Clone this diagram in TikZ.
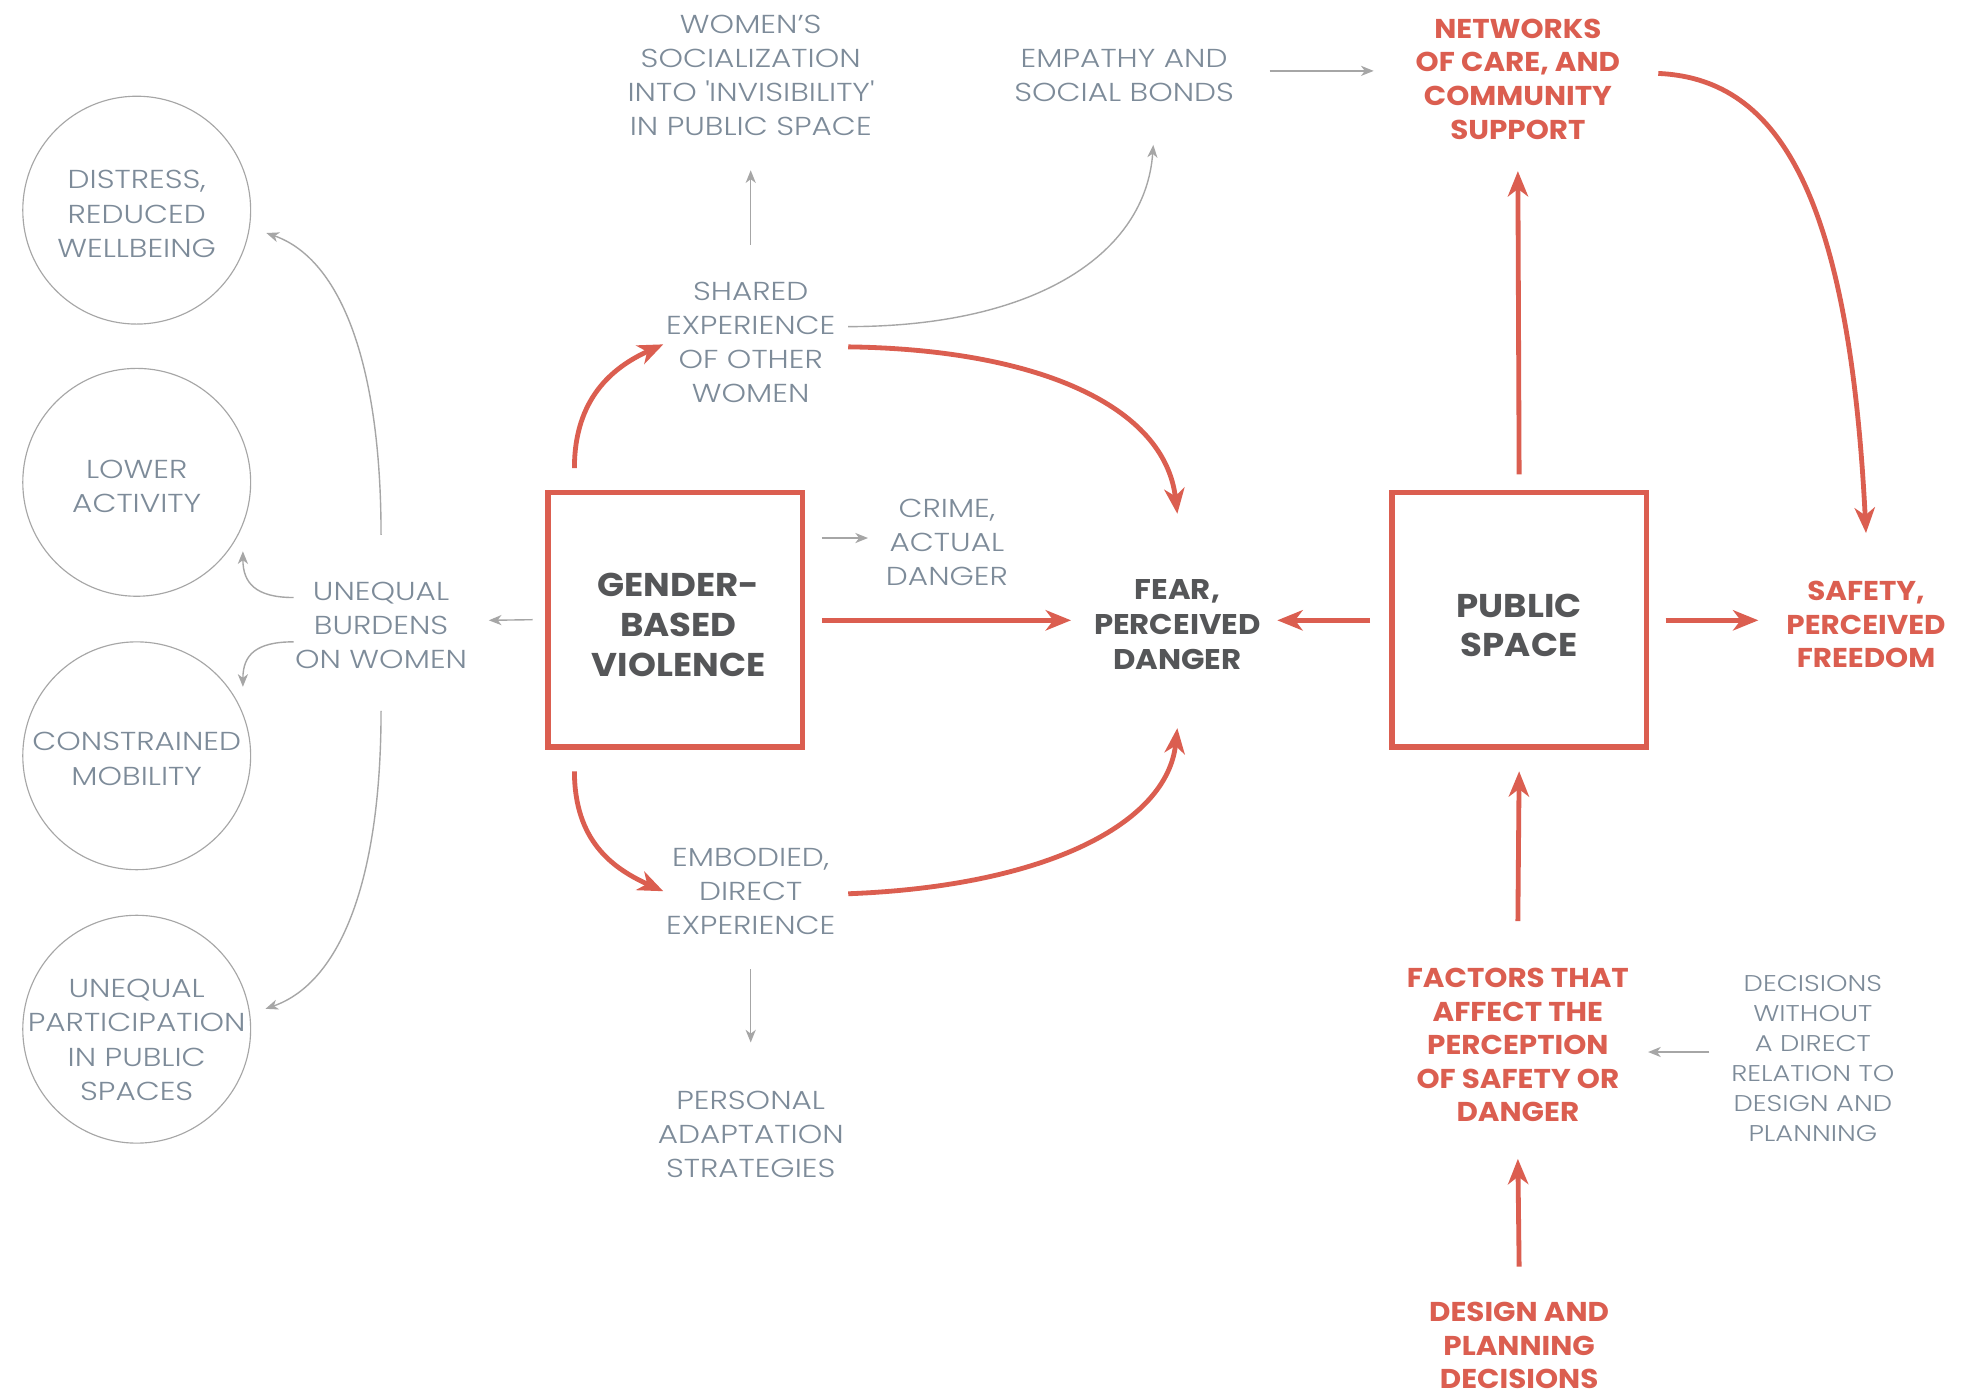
\documentclass[tikz,border=0pt]{standalone}
\usepackage{fontspec}
\setmainfont{Poppins}
\newfontfamily\lightf{Poppins Light}[FakeStretch=1.2]
\newfontfamily\boldf{Poppins}[FakeStretch=1.08]
\usetikzlibrary{arrows.meta,calc}
\definecolor{red1}{RGB}{219,94,80}
\definecolor{gtext}{RGB}{125,139,153}
\definecolor{gline}{RGB}{166,166,166}
\definecolor{dark}{RGB}{85,86,88}
\tikzset{
  gt/.style={font=\lightf\fontsize{20.5}{27}\selectfont, text=gtext, align=center, inner sep=0pt},
  st/.style={font=\lightf\fontsize{18}{23.7}\selectfont, text=gtext, align=center, inner sep=0pt},
  rt/.style={font=\boldf\bfseries\fontsize{21.5}{26.5}\selectfont, text=red1, align=center, inner sep=0pt},
  dt/.style={font=\boldf\bfseries\fontsize{22.5}{27.5}\selectfont, text=dark, align=center, inner sep=0pt},
  bigt/.style={font=\boldf\bfseries\fontsize{26}{31.5}\selectfont, text=dark, align=center, inner sep=0pt},
  bubble/.style={circle, draw=gline, line width=0.9pt, minimum size=180pt, inner sep=0pt},
  frame/.style={rectangle, draw=red1, line width=4.5pt, minimum width=201pt, minimum height=201pt, inner sep=0pt},
  garrow/.style={draw=gline, line width=1.1pt, -{Stealth[length=10pt,width=8pt,inset=3pt]}},
  rarrow/.style={draw=red1, line width=3.8pt, -{Stealth[length=20pt,width=16pt,inset=6pt]}}
}
\begin{document}
\begin{tikzpicture}[x=1pt,y=1pt]
\fill[white] (0,0) rectangle (1568,-1102);
\useasboundingbox (0,0) rectangle (1568,-1102);

% circles
\node[bubble] (c1) at (108,-166) {};
\node[gt] (t1) at (108,-169) {DISTRESS,\\REDUCED\\WELLBEING};
\node[bubble] (c2) at (108,-381) {};
\node[gt] (t2) at (108,-384.5) {LOWER\\ACTIVITY};
\node[bubble] (c3) at (108,-597) {};
\node[gt] (t3) at (108,-599.5) {CONSTRAINED\\MOBILITY};
\node[bubble] (c4) at (108,-813) {};
\node[gt] (t4) at (108,-821.5) {UNEQUAL\\PARTICIPATION\\IN PUBLIC\\SPACES};

% main nodes
\node[gt] (burdens) at (301,-494) {UNEQUAL\\BURDENS\\ON WOMEN};
\node[frame] (gbv) at (533.5,-489.5) {};
\node[bigt] (gbvtext) at (536,-493.5) {GENDER-\\BASED\\VIOLENCE};
\node[gt] (crime) at (748,-428.5) {CRIME,\\ACTUAL\\DANGER};
\node[dt] (fear) at (930,-493.5) {FEAR,\\PERCEIVED\\DANGER};
\node[frame] (ps) at (1200,-489.5) {};
\node[bigt] (pstext) at (1200,-494) {PUBLIC\\SPACE};
\node[rt] (safety) at (1474,-493.5) {SAFETY,\\PERCEIVED\\FREEDOM};
\node[rt] (networks) at (1199,-62.5) {NETWORKS\\OF CARE, AND\\COMMUNITY\\SUPPORT};
\node[rt] (factors) at (1199,-825.5) {FACTORS THAT\\AFFECT THE\\PERCEPTION\\OF SAFETY OR\\DANGER};
\node[rt] (design) at (1200,-1063) {DESIGN AND\\PLANNING\\DECISIONS};
\node[st] (decisions) at (1432,-836.5) {DECISIONS\\WITHOUT\\A DIRECT\\RELATION TO\\DESIGN AND\\PLANNING};
\node[gt] (shared) at (593,-270.5) {SHARED\\EXPERIENCE\\OF OTHER\\WOMEN};
\node[gt] (womens) at (593,-59.5) {WOMEN’S\\SOCIALIZATION\\INTO \textquotesingle INVISIBILITY\textquotesingle\\IN PUBLIC SPACE};
\node[gt] (empathy) at (888,-59.5) {EMPATHY AND\\SOCIAL BONDS};
\node[gt] (embodied) at (593,-704) {EMBODIED,\\DIRECT\\EXPERIENCE};
\node[gt] (personal) at (593,-896) {PERSONAL\\ADAPTATION\\STRATEGIES};

% gray connectors
\draw[garrow] ([xshift=-10]gbv.west) -- ([shift={(17,4)}]burdens.east);
\draw[garrow] ([yshift=37]burdens.north) .. controls +(0,132) and +(60,-21) .. ($(c1)+(-10:104)$);
\draw[garrow] ([shift={(-1,22)}]burdens.west) .. controls +(-30,0) and +(0,-25) .. ($(c2)+(-33:100)$);
\draw[garrow] ([shift={(-1,-13)}]burdens.west) .. controls +(-30,0) and +(0,25) .. ($(c3)+(33:100)$);
\draw[garrow] ([yshift=-33]burdens.south) .. controls +(0,-132) and +(60,21) .. ($(c4)+(9:103)$);
\draw[garrow] ([yshift=29]shared.north) -- ([yshift=-27]womens.south);
\draw[garrow] ([shift={(10,12.5)}]shared.east) .. controls +(150,0) and +(-6,-85) .. ([shift={(23,-34)}]empathy.south);
\draw[garrow] ([shift={(28,3.5)}]empathy.east) -- ([shift={(-33,6.5)}]networks.west);
\draw[garrow] ([shift={(13,64.5)}]gbv.east) -- ([shift={(-14,3.5)}]crime.west);
\draw[garrow] ([yshift=-27]embodied.south) -- ([yshift=38]personal.north);
\draw[garrow] ([shift={(-17,5.5)}]decisions.west) -- ([shift={(15,-5.5)}]factors.east);

% red connectors
\draw[rarrow] ([shift={(23,17)}]gbv.north west) .. controls +(0,55) and +(-40,-18) .. ([shift={(-2,-1.5)}]shared.west);
\draw[rarrow] ([shift={(10,-3.5)}]shared.east) .. controls +(150,-2) and +(-10,85) .. ([yshift=52]fear.north);
\draw[rarrow] ([shift={(13,-0.5)}]gbv.east) -- ([shift={(-18,3.5)}]fear.west);
\draw[rarrow] ([shift={(-15,-0.5)}]ps.west) -- ([shift={(13,3.5)}]fear.east);
\draw[rarrow] ([shift={(13,-0.5)}]ps.east) -- ([shift={(-22,3.5)}]safety.west);
\draw[rarrow] ([yshift=12]ps.north) -- ([yshift=-25]networks.south);
\draw[rarrow] ([shift={(30,4.5)}]networks.east) .. controls +(89,-4) and +(-14,280) .. ([yshift=38]safety.north);
\draw[rarrow] ([shift={(23,-17)}]gbv.south west) .. controls +(0,-55) and +(-40,18) .. ([shift={(-2,0)}]embodied.west);
\draw[rarrow] ([shift={(10,-2)}]embodied.east) .. controls +(157,6) and +(-8,-75) .. ([yshift=-46]fear.south);
\draw[rarrow] ([yshift=37]factors.north) -- ([yshift=-17]ps.south);
\draw[rarrow] ([yshift=28]design.north) -- ([yshift=-29]factors.south);
\end{tikzpicture}
\end{document}
